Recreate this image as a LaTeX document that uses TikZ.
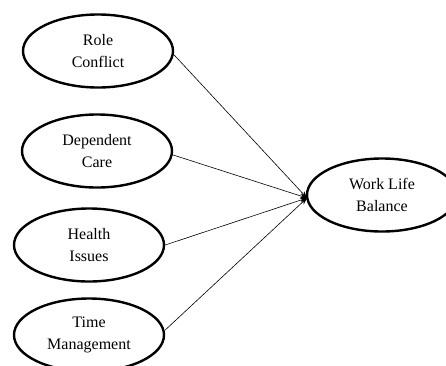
\documentclass[tikz,border=0pt]{standalone}
\usepackage{fontspec}
\setmainfont{Liberation Serif}
\usetikzlibrary{shapes.geometric,arrows.meta}
\begin{document}
\begin{tikzpicture}[x=1pt,y=-1pt,
  oval/.style={draw,line width=2.4pt,ellipse,minimum width=150pt,minimum height=73pt,inner sep=0pt,
    font=\fontsize{16pt}{21.5pt}\selectfont,align=center,text=black},
  link/.style={line width=0.6pt,-{Stealth[length=7pt,width=5pt]}}]
\fill[white] (0,0) rectangle (446,365);
\useasboundingbox (0,0) rectangle (446,365);
\begin{scope}
\clip (0,0) rectangle (446,365);
\node[oval] (rc) at (98,51) {Role\\Conflict};
\node[oval] (dc) at (97,151) {Dependent\\Care};
\node[oval] (hi) at (89,245) {Health\\Issues};
\node[oval] (tm) at (89,335) {Time\\Management};
\node[oval] (wlb) at (382,195) {Work Life\\Balance};
\coordinate (tip) at (307,198);
\draw[link] (rc.east) ++(0,4) coordinate (rcs) (rcs) -- (tip);
\draw[link] (dc.east) ++(0,4) coordinate (dcs) (dcs) -- (tip);
\draw[link] (hi.east) -- (tip);
\draw[link] (tm.east) ++(0,-5) coordinate (tms) (tms) -- (tip);
\end{scope}
\end{tikzpicture}
\end{document}
